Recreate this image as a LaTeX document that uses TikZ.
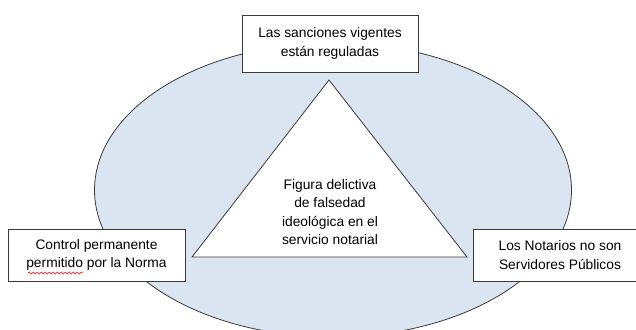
\documentclass[tikz,border=0pt]{standalone}
\usepackage{fontspec}
\setmainfont{Liberation Sans}
\usetikzlibrary{shapes.geometric,decorations.pathmorphing}
\definecolor{ellfill}{HTML}{DAE5F1}
\definecolor{edge}{HTML}{3A3A3A}
\tikzset{
  txt/.style={align=center, font=\fontsize{13.8}{18.5}\selectfont, inner sep=0pt},
  boxnode/.style={draw=edge, line width=0.8pt, fill=white, rectangle, inner sep=0pt},
}
\begin{document}
\begin{tikzpicture}[x=1pt,y=-1pt]
\useasboundingbox (0,0) rectangle (636,329);
\begin{scope}
\clip (0,0) rectangle (636,329);
\node[ellipse, draw=edge, line width=0.8pt, fill=ellfill, minimum width=477pt, minimum height=294pt, inner sep=0pt] (ell) at (333,190) {};
\coordinate (tA) at (329,80);
\coordinate (tL) at (192,257);
\coordinate (tR) at (467,257);
\draw[draw=edge, line width=0.8pt, fill=white, line join=miter] (tL) -- (tA) -- (tR) -- cycle;
\node[txt] (fig) at (330,212) {Figura delictiva\\de falsedad\\ideológica en el\\servicio notarial};
\node[boxnode, minimum width=176pt, minimum height=57pt] (top) at (330,43.5) {};
\node[txt] (toptxt) at (top.center) {Las sanciones vigentes\\están reguladas};
\node[boxnode, minimum width=177pt, minimum height=52pt] (left) at (96.5,255) {};
\node[txt] (lefttxt) at (left.center) {Control permanente\\permitido por la Norma};
\node[boxnode, minimum width=176pt, minimum height=52pt] (right) at (561,255) {};
\node[txt] (righttxt) at (560,255) {Los Notarios no son\\Servidores Públicos};
\coordinate (w1) at (28,273);
\coordinate (w2) at (83,273);
\draw[red, line width=0.6pt, decorate, decoration={snake, amplitude=0.9pt, segment length=4pt}] (w1) -- (w2);
\end{scope}
\end{tikzpicture}
\end{document}
